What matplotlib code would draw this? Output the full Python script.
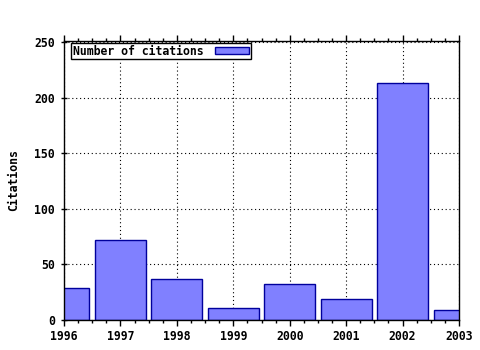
import matplotlib
matplotlib.use("Agg")
import matplotlib.pyplot as plt
from matplotlib.ticker import MultipleLocator

# citations per year
years = [1996, 1997, 1998, 1999, 2000, 2001, 2002, 2003]
citations = [29, 72, 37, 11, 32, 19, 213, 9]

plt.rcParams['font.family'] = 'DejaVu Sans Mono'
plt.rcParams['font.weight'] = 'bold'
plt.rcParams['axes.labelweight'] = 'bold'
plt.rcParams['font.size'] = 8.3

fig = plt.figure(figsize=(4.8, 3.5), dpi=100)
ax = fig.add_axes([64 / 480, 30 / 350, (459 - 64) / 480, (320 - 41) / 350])

ax.bar(years, citations, width=0.9, color='#8080ff', edgecolor='#00009c',
       linewidth=1, label='Number of citations', zorder=2)

ax.set_xlim(1996, 2003)
ax.set_ylim(0, 251)
ax.set_yticks([0, 50, 100, 150, 200, 250])
ax.set_xticks(years)
ax.xaxis.set_minor_locator(MultipleLocator(0.25))

ax.grid(True, which='major', color='black', linestyle=(0, (1, 2.5)),
        linewidth=0.8, zorder=1)
ax.set_axisbelow(True)

ax.tick_params(axis='x', which='major', direction='out', length=4, width=1,
               top=True, pad=3)
ax.tick_params(axis='x', which='minor', direction='out', length=2, width=1,
               top=True)
ax.tick_params(axis='y', which='major', direction='inout', length=5, width=1,
               pad=4)
for s in ax.spines.values():
    s.set_linewidth(1)

ax.set_ylabel('Citations', labelpad=10)

leg = ax.legend(loc='upper left', bbox_to_anchor=(7 / 395, 1 - 2 / 279),
                markerfirst=False, fancybox=False, framealpha=1,
                edgecolor='black', borderaxespad=0, borderpad=0.15,
                handlelength=3, handleheight=0.6, handletextpad=1.0)
leg.get_frame().set_linewidth(1)

fig.savefig('out.png', dpi=100)
